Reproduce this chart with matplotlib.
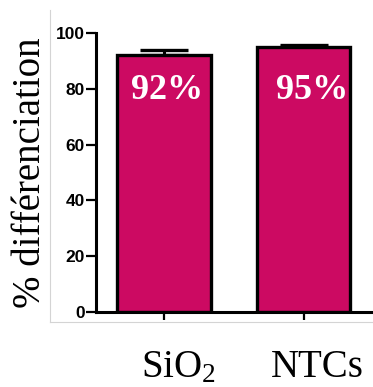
import matplotlib.pyplot as plt
from matplotlib.lines import Line2D
from matplotlib.transforms import ScaledTranslation

plt.rcParams['mathtext.default'] = 'regular'

categories = ['SiO$_2$', 'NTCs']
values = [92, 95]
errors = [1.7, 0.6]
bar_labels = ['92%', '95%']
label_shift = [0.02, 0.06]
bar_color = '#cc0a62'

figure = plt.figure(figsize=(3.73, 3.87), dpi=100)
axes = figure.add_axes([0.257, 0.194, 0.74, 0.721])

positions = list(range(len(categories)))
axes.bar(positions, values, width=0.67, color=bar_color, edgecolor='black', linewidth=2.4, zorder=2)
axes.errorbar(positions, values, yerr=[[0] * len(errors), errors], fmt='none', ecolor='black',
              elinewidth=2.2, capsize=17, capthick=2.4, zorder=1)

for x, text, dx in zip(positions, bar_labels, label_shift):
	axes.text(x + dx, 79.5, text, ha='center', va='center', color='white', fontsize=26,
	          fontweight='bold', family='Liberation Serif', zorder=3)

axes.set_xlim(-0.49, 1.49)
axes.set_ylim(0, 100)
yticks = [0, 20, 40, 60, 80, 100]
axes.set_yticks(yticks)
axes.set_yticklabels([str(t) for t in yticks], family='Liberation Sans', fontweight='bold', fontsize=12.5)
axes.set_xticks(positions)
axes.set_xticklabels(categories, family='Liberation Serif', fontsize=28)

axes.set_ylabel('% différenciation', family='Liberation Serif', fontsize=28, labelpad=5)
axes.tick_params(axis='y', length=7.5, width=1.6, pad=0.5)
axes.tick_params(axis='x', length=6, width=1.6, pad=21)

# category labels sit a little right of their ticks in the original
for label in axes.get_xticklabels():
	label.set_transform(label.get_transform() + ScaledTranslation(14 / 100, 0, figure.dpi_scale_trans))

for side in ['top', 'right']:
	axes.spines[side].set_visible(False)
for side in ['left', 'bottom']:
	axes.spines[side].set_linewidth(2.2)

# faint frame lines from the original image
figure.add_artist(Line2D([50 / 373, 50 / 373], [1 - 10 / 387, 1 - 322 / 387], color='#d4d4d4', linewidth=0.8))
figure.add_artist(Line2D([50 / 373, 1], [1 - 322 / 387, 1 - 322 / 387], color='#d4d4d4', linewidth=0.8))

figure.savefig('out.png', dpi=100)
